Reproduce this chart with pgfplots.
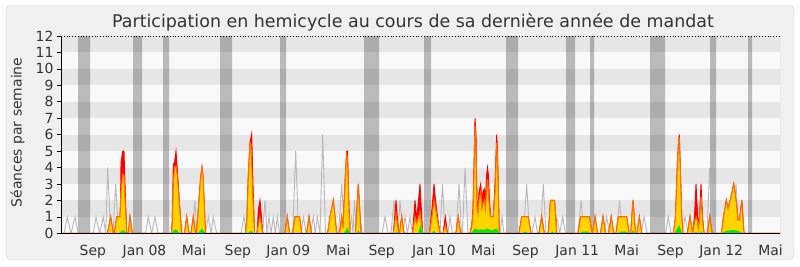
\documentclass[border=0pt]{standalone}
\usepackage{pgfplots}
\pgfplotsset{compat=1.18}
\usepackage{fontspec}
\setmainfont{DejaVu Sans}
\definecolor{bandg}{RGB}{230,230,230}
\definecolor{bandl}{RGB}{249,249,249}
\definecolor{frameg}{RGB}{240,240,240}
\definecolor{framel}{RGB}{214,214,214}
\definecolor{txt}{RGB}{51,51,51}
\definecolor{grayline}{RGB}{185,185,185}
\definecolor{ored}{RGB}{255,0,0}
\definecolor{oyel}{RGB}{255,212,0}
\definecolor{oora}{RGB}{255,110,0}
\definecolor{ogrn}{RGB}{0,235,0}
\begin{document}
\begin{tikzpicture}
\fill[white] (0,0) rectangle (800bp,267bp);
\path[use as bounding box] (0,0) rectangle (800bp,267bp);
\filldraw[fill=frameg, draw=framel, rounded corners=5bp] (6bp,7bp) rectangle (794bp,262bp);
\begin{axis}[
  at={(61bp,33.7bp)}, anchor=south west,
  width=719bp, height=197.3bp, scale only axis,
  xmin=61, xmax=780, ymin=0, ymax=12,
  axis x line*=bottom, axis y line*=left,
  axis on top, no markers,
  ytick={0,1,2,3,4,5,6,7,8,9,10,11,12},
  xtick={92.8,144.5,194,237.8,288.3,338.3,381.7,433.9,483.3,525.5,577.2,626.7,670.5,721.2,770.5},
  xticklabels={Sep,Jan 08,Mai,Sep,Jan 09,Mai,Sep,Jan 10,Mai,Sep,Jan 11,Mai,Sep,Jan 12,Mai},
  tick align=outside, major tick length=4bp,
  xtick style={draw=none}, ytick style={black, line width=0.6bp},
  axis line style={black, line width=0.8bp},
  /pgf/number format/assume math mode=true,
  ticklabel style={font=\fontsize{14}{16}\selectfont, text=txt},
  xticklabel style={anchor=base, yshift=-17.7bp},
  ylabel={Séances par semaine},
  ylabel style={at={(axis description cs:-0.0605,0.511)}, anchor=center, font=\fontsize{14}{16}\selectfont, text=txt},
  title={Participation en hemicycle au cours de sa dernière année de mandat},
  title style={at={(axis description cs:0.4896,1.044)}, anchor=base, yshift=-6pt, font=\fontsize{17.5}{20}\selectfont, text=txt},
]
\fill[bandl] (axis cs:61,0) rectangle (axis cs:780,12);
\fill[bandg] (axis cs:61,1) rectangle (axis cs:780,2);
\fill[bandg] (axis cs:61,3) rectangle (axis cs:780,4);
\fill[bandg] (axis cs:61,5) rectangle (axis cs:780,6);
\fill[bandg] (axis cs:61,7) rectangle (axis cs:780,8);
\fill[bandg] (axis cs:61,9) rectangle (axis cs:780,10);
\fill[bandg] (axis cs:61,11) rectangle (axis cs:780,12);
% vacations
\addplot[const plot, fill=black, fill opacity=0.25, draw=none] coordinates {
(61,0)(78,12)(90,0)(133,12)(142,0)(163,12)(169,0)(220,12)(232,0)(280,12)(286,0)(364,12)(379,0)(424,12)(431,0)(506,12)(518,0)(566,12)(575,0)(590,12)(594,0)(650,12)(665,0)(710,12)(716,0)(748,12)(752,0)(780,0)} \closedcycle;
% total sessions
\addplot[grayline, line width=0.9bp] coordinates {
(61,0)(64,0)(67.3,1)(71,0)(75,1)(78.3,0)
(93.3,0)(96,1)(99.7,0)(103.3,1)(105.7,0)(107.7,4)(110.7,0)(113,0)(115.7,3)(118.5,0)
(141.7,0)(145.5,0)(148.3,1)(151.7,0)(155,1)(158,0)
(192.5,0)(194.9,2)(197,0)(205.5,0)(208.3,1)(211,0)(213.3,1)(216.7,0)
(241,0)(244,1)(246.5,0)
(262.5,0)(265,2)(267,0)(269,1)(271,0)(273.3,1)(275.3,0)(277.3,1)(279.5,0)
(292.7,0)(295.7,5)(298.5,0)(301,0)(303.5,1)(306,0)(310.5,0)(313.3,1)(315.3,0)(317.3,1)(320,0)(322.7,6)(325.5,0)
(338.5,0)(341.7,3)(344.5,0)(349,0)(351.7,1)(353,0)(354.5,2)(356.5,0)(360,1)(362.5,0)
(382,0)(385,1)(388,0)(391,0)(394,2)(397,0)(398,0)(400,2)(403,0)(405,1)(407.5,0)(410,1)(412.5,0)
(440,0)(442.5,3)(445,0)(448,0)(450,1)(452.5,0)(456,0)(459,3)(461.5,0)(462.5,0)(465,4)(468,0)
(500,0)(502,1)(504,0)
(523.5,0)(526.7,3)(529.5,0)(532,0)(535,1)(537.5,0)(540.5,0)(543.3,3)(546,0)(554,0)(556.7,1)(559.7,0)(562.7,1)(565.5,0)
(578,0)(581,2)(584,0)(604,0)(606.7,1)(609.5,0)(616.5,0)(619.5,2)(622.5,0)(641,0)(644,1)(647,0)
(665.5,0)(668.3,1)(671,0)(682,0)(685,1)(688,0)(707,0)(709.7,4)(712,0)
(733,0)(736,3)(739,0)(780,0)};
% presences (red)
\addplot[fill=ored, draw=ored, line width=0.9bp] coordinates {
(61,0)(107.5,0)(110.7,1)(113.3,0)(114.3,0)(116.7,1)(120,1)(120.5,1.7)(121,4.3)(122.7,5)(124,5)(125.5,2)(126.7,0)(128.3,0)(130,1)(132.3,0)
(171.5,0)(172.3,0.8)(173.3,4.2)(174.5,4.3)(176,5)(177.3,3.9)(179.3,2)(181.7,0)
(184.5,0)(186.7,1)(189,0)(191,0)(193.3,1)(195.5,0)(196.5,0)(199,2)(200.5,3.3)(202,4)(203,3.5)(205.5,0)
(245.5,0)(247,1)(248.3,3.5)(250,5.5)(251.7,6.05)(253,3)(254.5,0)(257,0)(258.5,1.5)(260,2)(261.5,1)(262.7,0)
(285,0)(287.3,1)(289.5,0)(292.7,0)(295,1)(299.5,1)(301.7,0)(306.7,0)(309,1)(311.3,0)
(327.7,0)(330,1)(333.3,2)(336.7,0)(339.5,0)(341.7,1)(343,0.3)(344.5,2.5)(346.7,5)(347.5,5)(349,1.5)(350,0)(355.5,0)(358.3,3)(361,0)
(393.3,0)(396,2)(398.7,0)(399.5,0)(401.7,1)(404,0)(412.5,0)(415,2)(416.7,0.8)(420,3)(422.7,0)
(429.5,0)(432,1.5)(434,3)(435.5,2)(437.5,1)(440,0)(443,0)(445.3,1)(447.5,0)(456,0)(458.3,1)(460.5,0)
(470,0)(471.7,0.5)(473,1.5)(474,4)(475,7)(476,6)(477,2)(478,1.5)(479,2.5)(480.7,3)(482,2)(483,2.5)(484.3,2.7)(485.5,2)(486.5,3.5)(487.5,4)(488.5,3.5)(489.5,2)(490.7,1)(493.3,1)(495,3)(496.7,6)(497.5,5)(499.3,0)
(519,0)(521.7,1)(528.3,1)(531,0)(539,0)(541.7,1)(544.3,0)(548.3,0)(550.5,2)(554.5,2)(556.7,0)
(578,0)(580.7,1)(589.5,1)(592,0)(592.5,0)(595,1)(597.5,0)(600.5,0)(603,1)(605.5,0)(608.7,0)(611.2,1)(613.7,0)
(616,0)(618.3,1)(626.7,1)(629,0)(630.7,0)(633,2)(635.5,0)(637,0)(639.3,1)(641.7,0)
(673.5,0)(675.5,1)(677.5,4.5)(678.5,5.5)(679.3,6)(680.3,4)(681.7,1)(683,0)
(687.5,0)(690,1)(692.5,0)(694.5,1)(696,3)(697.3,1.5)(698.3,0.5)(699.5,1)(701,3)(702.5,1)(704,0)(707.5,0)(709.7,1)(712,0)
(721.5,0)(723.5,1)(726.3,2)(728,1.5)(731,2.2)(733.7,3)(736,2)(738,0.8)(739.5,0.8)(741.8,2)(744,0)(780,0)} \closedcycle;
% interventions (yellow)
\addplot[fill=oyel, draw=oora, line width=1.1bp] coordinates {
(61,0)(107.5,0)(110.7,1)(113.3,0)(114.3,0)(116.7,1)(120,1)(121,2.5)(122.7,3.6)(124,3.5)(125.5,1.5)(126.7,0)(128.3,0)(130,1)(132.3,0)
(171.5,0)(172.3,0.6)(173.3,3)(174.5,4)(176,4.1)(177.3,3.5)(179.3,1.8)(181.7,0)
(184.5,0)(186.7,1)(189,0)(191,0)(193.3,1)(195.5,0)(196.5,0)(199,2)(200.5,3.3)(202,4)(203,3.5)(205.5,0)
(245.5,0)(247,1)(248.3,3.4)(250,5.5)(251,5.4)(252.5,2.8)(254.5,0)(257,0)(258.5,0.6)(260,1)(261.5,0.5)(262.7,0)
(285,0)(287.3,1)(289.5,0)(292.7,0)(295,1)(299.5,1)(301.7,0)(306.7,0)(309,1)(311.3,0)
(327.7,0)(330,1)(333.3,2)(336.7,0)(339.5,0)(341.7,1)(343,0.3)(344.5,2.3)(346.5,4.8)(347.5,4.6)(349,1.3)(350,0)(355.5,0)(358.3,3)(361,0)
(393.3,0)(396,1.2)(398.7,0)(399.5,0)(401.7,1)(404,0)(412.5,0)(415,1)(416.7,0.6)(420,1.3)(422.7,0)
(429.5,0)(432,1)(434,2)(435.5,1.5)(437.5,0.8)(440,0)(443,0)(445.3,0.5)(447.5,0)(456,0)(458.3,1)(460.5,0)
(470,0)(471.7,0.4)(473,1.2)(474,3.5)(475,6.5)(476,5)(477,1.5)(478,1.2)(479,2)(480.7,2.5)(482,1.5)(483,1.8)(484.3,2)(485.5,1.5)(486.5,2.5)(487.5,3.3)(488.5,2.5)(489.5,1.5)(490.7,1)(493.3,1)(495,2.5)(496.7,5.5)(497.5,4.5)(499.3,0)
(519,0)(521.7,1)(528.3,1)(531,0)(539,0)(541.7,1)(544.3,0)(548.3,0)(550.5,2)(554.5,2)(556.7,0)
(578,0)(580.7,1)(589.5,1)(592,0)(592.5,0)(595,1)(597.5,0)(600.5,0)(603,1)(605.5,0)(608.7,0)(611.2,1)(613.7,0)
(616,0)(618.3,1)(626.7,1)(629,0)(630.7,0)(633,2)(635.5,0)(637,0)(639.3,1)(641.7,0)
(673.5,0)(675.5,1)(677.5,4.3)(678.5,5.5)(679.3,5.8)(680.3,3.8)(681.7,1)(683,0)
(687.5,0)(690,1)(692.5,0)(694.5,0.7)(696,1)(697.3,0.8)(698.3,0.3)(699.5,0.8)(701,2.2)(702.5,0.8)(704,0)(707.5,0)(709.7,1)(712,0)
(721.5,0)(723.5,1)(726.3,2)(728,1.5)(731,2.2)(733.7,3)(736,2)(738,0.8)(739.5,0.8)(741.8,2)(744,0)(780,0)} \closedcycle;
% questions (green)
\addplot[fill=ogrn, draw=none] coordinates {
(61,0)(119,0)(121,0.1)(123,0.2)(125,0.1)(126.5,0)(172,0)(174,0.2)(176,0.25)(178,0.1)(180,0)(198,0)(200,0.15)(202,0.3)(204,0.1)(205.5,0)
(248,0)(250,0.1)(251.5,0.15)(253,0)(344,0)(346,0.2)(347.3,0.35)(349,0.1)(350,0)(357,0)(358.3,0.15)(360,0)
(395,0)(396.5,0.1)(398,0)(418,0)(419.5,0.3)(420.7,0.5)(422,0.1)(423,0)(432,0)(434,0.15)(436,0)
(471,0)(473,0.15)(475,0.3)(478,0.2)(481,0.25)(484,0.2)(487,0.3)(490,0.2)(493,0.2)(496.7,0.3)(499,0)
(522,0)(525,0.1)(528,0)(550,0)(552.5,0.1)(555,0)(580,0)(582,0.1)(588,0.1)(590,0)(618,0)(620,0.1)(626,0.1)(628,0)(631.5,0)(633,0.2)(634.5,0)
(675,0)(677,0.3)(679,0.5)(681,0.2)(682,0)(695,0)(696,0.1)(697,0)(700,0)(701,0.15)(702,0)
(722,0)(726,0.15)(733,0.2)(738,0.15)(741,0.05)(743,0)(780,0)} \closedcycle;
\draw[black, dotted, line width=0.8bp] (rel axis cs:0,1) -- (rel axis cs:1,1);
\draw[black!20, line width=0.6bp] (rel axis cs:1,0) -- (rel axis cs:1,1);
\end{axis}
\end{tikzpicture}
\end{document}
